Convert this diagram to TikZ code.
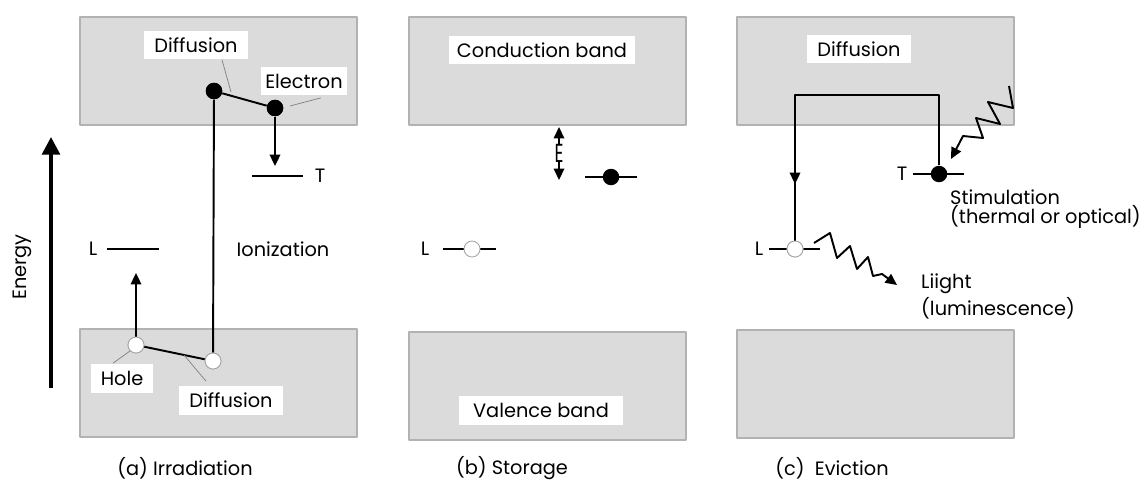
\documentclass[tikz,border=0pt]{standalone}
\usepackage{fontspec}
\setmainfont{Poppins}
\usetikzlibrary{positioning,arrows.meta}
\begin{document}
\begin{tikzpicture}[x=0.02cm, y=-0.02cm, font=\fontsize{11}{13.6}\selectfont, line join=round, >={Triangle[length=6.5pt,width=6pt]}]
\tikzset{band/.style={fill=black!14, draw=black!30, line width=0.6pt},
  tag/.style={fill=white, inner xsep=0.2cm, inner ysep=0pt, minimum height=0.58cm},
  lead/.style={draw=black!50, line width=0.4pt},
  lvl/.style={line width=1.3pt},
  elec/.style={circle, fill=black, inner sep=0pt, minimum size=0.33cm},
  hole/.style={circle, fill=white, draw=black!35, line width=0.5pt, inner sep=0pt, minimum size=0.32cm}}
\useasboundingbox (0,0) rectangle (1145,480);
% bands
\foreach \x/\yb in {80/329, 409/332, 737/330} {
  \draw[band] (\x,17) rectangle ++(277,108);
  \draw[band] (\x,\yb) rectangle ++(277,108);
}
% (a) irradiation
\draw[-{Triangle[length=10pt,width=10pt]}, line width=2.2pt] (51,388) -- (51,137);
\node[rotate=90] (energy) at (22,267) {Energy};
\draw[lvl] (252,176) -- (303,176);
\node (tA) at (320,176) {T};
\draw[lvl] (107,249) -- (159,249);
\node (lA) at (93,249) {L};
\node (ion) at (283,249) {Ionization};
\coordinate (tAtop) at (275,166);
\coordinate (lAbot) at (136,273);
\node[elec] (e1) at (214,91) {};
\node[elec] (e2) at (275,108) {};
\node[hole] (h1) at (136,345) {};
\node[hole] (h2) at (213,361) {};
\draw[line width=1.1pt] (h2) -- (e1) -- (e2);
\draw[line width=1.1pt] (h1) -- (h2);
\draw[->, line width=1.1pt] (e2) -- (tAtop);
\draw[->, line width=1.1pt] (h1) -- (lAbot);
\node[elec] at (e1) {};
\node[elec] at (e2) {};
\node[hole] at (h1) {};
\node[hole] at (h2) {};
\node[tag] (dA1) at (196,45) {Diffusion};
\node[tag, inner xsep=0.08cm] (elA) at (304,81) {Electron};
\node[tag] (hoA) at (122,378) {Hole};
\node[tag] (dA2) at (231,400) {Diffusion};
\draw[lead] (dA1.south) ++(26,0) -- (231,92);
\draw[lead] (elA.south) ++(17,2) -- (290,106);
\draw[lead] (hoA.north) ++(-9,0) -- (130,351);
\draw[lead] (dA2.north) ++(-25,-4) -- (184,355);
\node (capA) at (185,468) {(a) Irradiation};
% (b) storage
\node[tag, inner xsep=0.16cm] (cb) at (542,50) {Conduction band};
\node[tag, inner xsep=0.28cm] (vb) at (541,410) {Valence band};
\node[inner sep=0pt, fill=white] (eB) at (559,153) {\scalebox{0.9}[1.35]{E}};
\coordinate (eBtop) at (559,127);
\coordinate (eBbot) at (559,180);
\draw[->, line width=0.9pt] (eB.north) -- (eBtop);
\draw[->, line width=0.9pt] (eB.south) -- (eBbot);
\draw[lvl] (585,177) -- (637,177);
\node[elec] (eT) at (611,177) {};
\draw[lvl] (443,249) -- (496,249);
\node[hole] (hL) at (472,249) {};
\node (lB) at (425,249) {L};
\node (capB) at (512,468) {(b) Storage};
% (c) eviction
\node[tag] (dC) at (859,49) {Diffusion};
\draw[lvl] (913,174) -- (964,174);
\draw[lvl] (769,249) -- (820,249);
\node (tC) at (902,174) {T};
\node (lC) at (759,249) {L};
\coordinate (cTop) at (939,95);
\coordinate (cLeft) at (795,95);
\coordinate (cMid) at (795,184);
\node[elec] (eC) at (939,174) {};
\node[hole] (hC) at (795,249) {};
\draw[line width=1.1pt] (eC) -- (cTop) -- (cLeft) -- (hC);
\draw[->, line width=1.1pt] (cLeft) -- (cMid);
\node[hole] at (hC) {};
\coordinate (stimTip) at (951,159);
\coordinate (lightTip) at (897,285);
\draw[->, line width=1.1pt] (1009,86) -- (1013,108) -- (988,102) -- (1000,124) -- (976,118) -- (983,138) -- (963,136) -- (stimTip);
\draw[->, line width=1.1pt] (814,243) -- (830,233) -- (837,258) -- (850,246) -- (857,269) -- (868,257) -- (873,276) -- (882,274) -- (lightTip);
\node[anchor=west, align=left] (stim) at (944,209) {Stimulation\\[-2.8pt](thermal or optical)};
\node[anchor=west, align=left] (light) at (915,296) {Liight\\[1.7pt](luminescence)};
\node (capC) at (832,468) {(c)\ \ Eviction};
\end{tikzpicture}
\end{document}
